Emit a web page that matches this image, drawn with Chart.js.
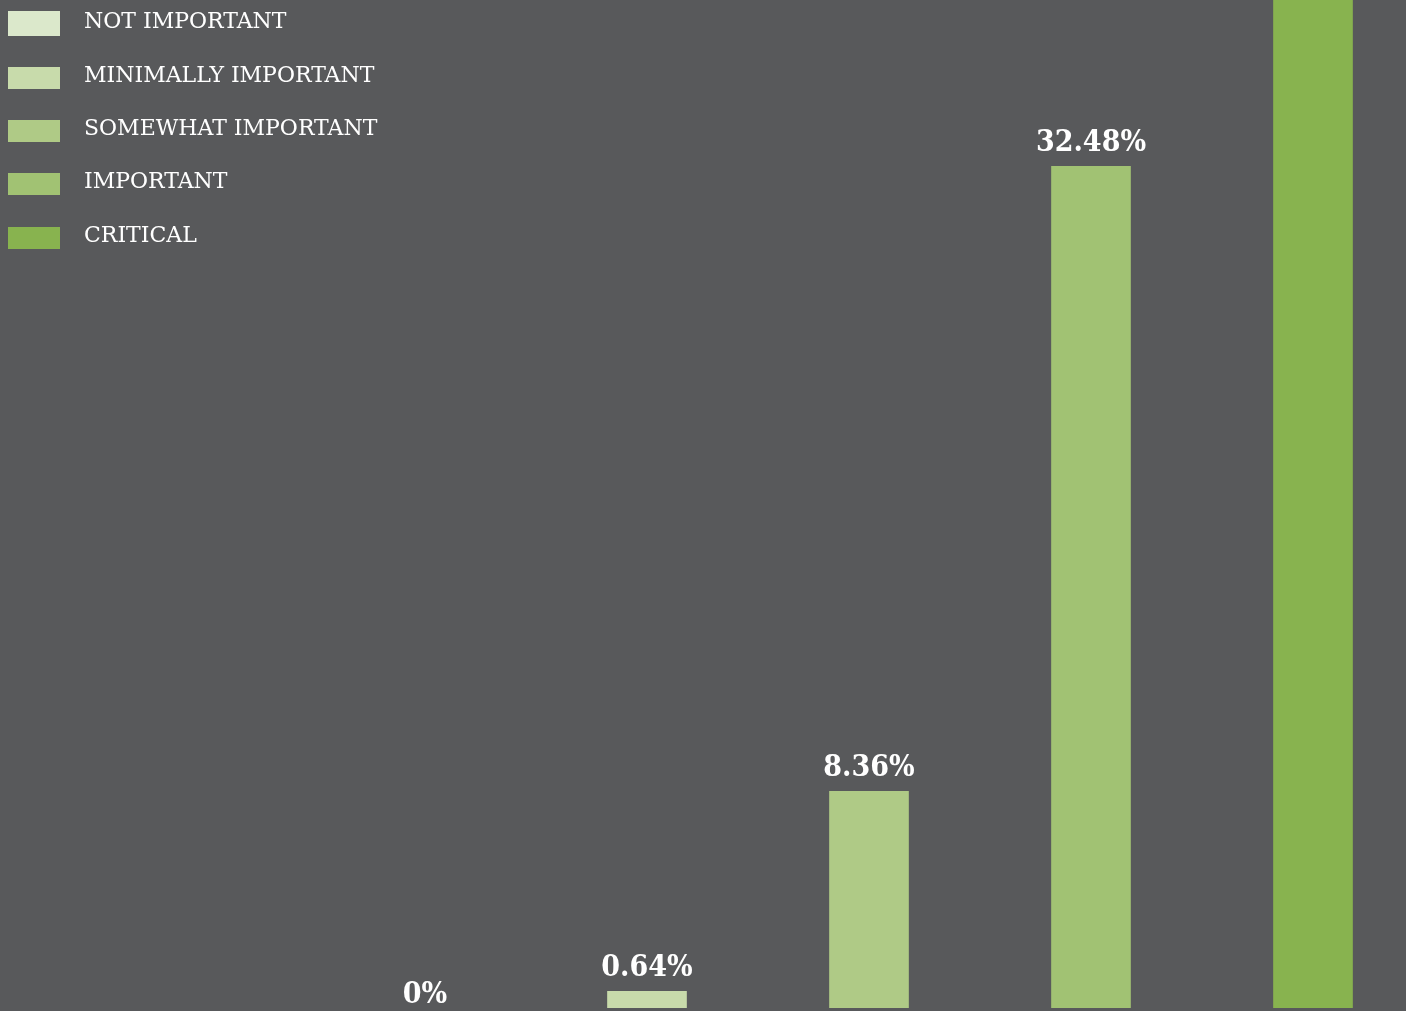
<!DOCTYPE html>
<html>
<head>
<meta charset="utf-8">
<script src="https://cdn.jsdelivr.net/npm/chart.js@4/dist/chart.umd.min.js"></script>
<style>
  html, body { margin: 0; padding: 0; background: #58595b; overflow: hidden; }
  #wrap { position: relative; width: 1406px; height: 1011px; overflow: hidden; }
  #chart { position: absolute; left: 0; top: 0; }
  #legend { position: absolute; left: 0; top: 0; }
  .row { position: absolute; left: 0; height: 26px; }
  .box { position: absolute; left: 8px; width: 52px; height: 23px; }
  .txt {
    position: absolute; left: 84px; white-space: nowrap;
    font-family: 'DejaVu Serif', serif;
    font-size: 22px; line-height: 22px; color: #ffffff;
  }
</style>
</head>
<body>
<div id="wrap">
  <canvas id="chart" width="1424" height="1011"></canvas>
  <div id="legend"></div>
</div>
<script>
// importance ratings, share of respondents (%)
const categories = ['NOT IMPORTANT', 'MINIMALLY IMPORTANT', 'SOMEWHAT IMPORTANT', 'IMPORTANT', 'CRITICAL'];
const shares = [0, 0.64, 8.36, 32.48, 58.52];
const valueLabels = ['0%', '0.64%', '8.36%', '32.48%', '58.52%'];
const colors = ['#dbe8cb', '#c8dbab', '#afca86', '#a1c273', '#88b34f'];

// legend, one row per category
const legend = document.querySelector('#legend');
const rowTops = [10, 64, 117, 170, 224];
categories.forEach((name, i) => {
  const row = document.createElement('div');
  row.className = 'row';
  row.style.top = rowTops[i] + 'px';
  row.innerHTML = `<div class="box" style="top:${i === 0 ? 1 : 3}px;height:${i === 0 ? 25 : 22}px;background:${colors[i]}"></div>` +
    `<div class="txt" style="top:0">${name}</div>`;
  legend.appendChild(row);
});

// percentage above each bar
const barValues = {
  id: 'barValues',
  afterDatasetsDraw(chart) {
    const { ctx } = chart;
    const meta = chart.getDatasetMeta(0);
    ctx.save();
    ctx.fillStyle = '#ffffff';
    ctx.font = "bold 30px 'DejaVu Serif Condensed', 'DejaVu Serif', serif";
    ctx.textAlign = 'center';
    ctx.textBaseline = 'alphabetic';
    meta.data.forEach((bar, i) => {
      const gap = shares[i] === 0 ? 5 : 15;
      ctx.fillText(valueLabels[i], bar.x, bar.y - gap);
    });
    ctx.restore();
  }
};

new Chart(document.querySelector('#chart'), {
  type: 'bar',
  data: {
    labels: categories,
    datasets: [
      {
        data: shares,
        // an empty bar leaves no hairline at the base
        backgroundColor: (c) => (c.raw === 0 ? 'transparent' : colors[c.dataIndex]),
        borderWidth: 0,
        barThickness: 79,
      },
    ],
  },
  options: {
    responsive: false,
    animation: false,
    layout: { padding: { left: 314, right: 0, top: 0, bottom: 3 } },
    plugins: {
      legend: { display: false },
      tooltip: { enabled: false },
    },
    scales: {
      x: { display: false },
      y: { display: false, min: 0, max: 38.9 },
    },
  },
  plugins: [barValues],
});
</script>
</body>
</html>
